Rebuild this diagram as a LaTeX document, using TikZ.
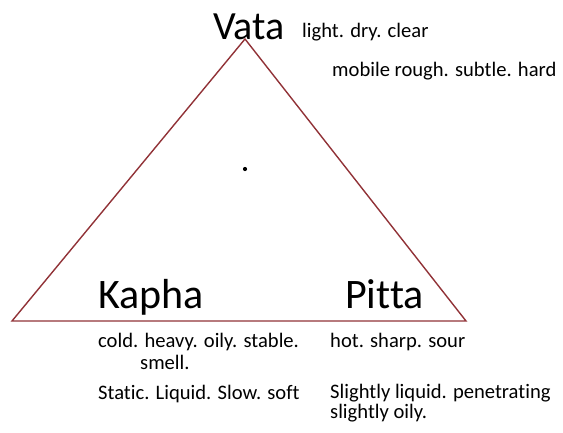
\documentclass[tikz,border=0pt]{standalone}
\usepackage{fontspec}
\setmainfont{Carlito}[Ligatures={NoCommon}]
\definecolor{edgered}{RGB}{145,50,55}
\tikzset{
  big/.style={anchor=base west, inner sep=0pt, font=\fontsize{42}{50}\selectfont},
  small/.style={anchor=base west, inner sep=0pt, font=\fontsize{20.6}{25}\selectfont},
  edge/.style={draw=edgered, line width=1.4pt, line join=miter}
}
\begin{document}
\begin{tikzpicture}[x=1pt, y=-1pt]
  \useasboundingbox (0,0) rectangle (563,432);
  % triangle corners
  \coordinate (apex) at (245,39);
  \coordinate (left) at (12,321);
  \coordinate (right) at (466,321);
  \draw[edge] (apex) -- (right) -- (left) -- cycle;
  % centre point
  \fill (245,169) circle (2.1pt);
  % Vata
  \node[big, font=\fontsize{40}{48}\selectfont] (vata) at (213,39) {Vata};
  \node[small] (vata1) at (302,37) {light. dry. clear};
  \node[small] (vata2) at (332,76) {mobile rough. subtle. hard};
  % Kapha
  \node[big] (kapha) at (98,308) {Kapha};
  \node[small] (kapha1) at (98,347) {cold. heavy. oily. stable.};
  \node[small] (kapha2) at (140,369) {smell.};
  \node[small] (kapha3) at (98,399) {Static. Liquid. Slow. soft};
  % Pitta
  \node[big] (pitta) at (345,308) {Pitta};
  \node[small] (pitta1) at (330,347) {hot. sharp. sour};
  \node[small] (pitta2) at (330,398) {Slightly liquid. penetrating};
  \node[small] (pitta3) at (330,418) {slightly oily.};
\end{tikzpicture}
\end{document}
